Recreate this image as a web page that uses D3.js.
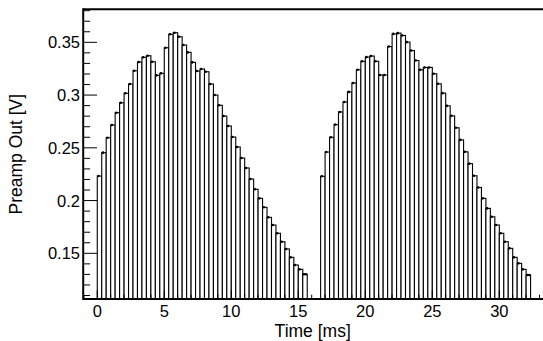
<!DOCTYPE html>
<html>
<head>
<meta charset="utf-8">
<script src="https://cdn.jsdelivr.net/npm/d3@7"></script>
<style>
  html, body { margin: 0; padding: 0; background: #fff; }
  svg { display: block; }
  text { font-family: "Liberation Sans", Arial, Helvetica, sans-serif; fill: #000; }
</style>
</head>
<body>
<svg id="chart" width="543" height="341"></svg>
<script>
// ---- data ----
const sampleStep = 1 / 3;            // ms per bin
const segment1Start = 0;             // ms
const segment2Start = 50 / 3;        // ms
const segment1Values = [
  0.2233, 0.2454, 0.2596, 0.2716, 0.2833, 0.2927, 0.3017, 0.3105, 0.3231, 0.3313,
  0.3358, 0.3373, 0.3316, 0.3187, 0.3206, 0.3449, 0.3576, 0.3591, 0.3553, 0.3474,
  0.3405, 0.3310, 0.3228, 0.3247, 0.3221, 0.3105, 0.3000, 0.2903, 0.2801, 0.2707,
  0.2602, 0.2508, 0.2403, 0.2309, 0.2204, 0.2107, 0.2021, 0.1936, 0.1841, 0.1768,
  0.1690, 0.1610, 0.1541, 0.1462, 0.1389, 0.1348, 0.1301
];
const segment2Values = [
  0.2230, 0.2460, 0.2600, 0.2720, 0.2840, 0.2935, 0.3030, 0.3115, 0.3240, 0.3320,
  0.3360, 0.3370, 0.3320, 0.3190, 0.3190, 0.3460, 0.3580, 0.3587, 0.3565, 0.3502,
  0.3422, 0.3328, 0.3240, 0.3262, 0.3262, 0.3202, 0.3107, 0.3018, 0.2898, 0.2803,
  0.2690, 0.2575, 0.2462, 0.2350, 0.2235, 0.2124, 0.2021, 0.1926, 0.1846, 0.1768,
  0.1690, 0.1610, 0.1547, 0.1462, 0.1405, 0.1348, 0.1294
];
const xTicks = [0, 5, 10, 15, 20, 25, 30];
const xTickLabels = ["0", "5", "10", "15", "20", "25", "30"];
const yTicks = [0.15, 0.2, 0.25, 0.3, 0.35];
const yTickLabels = ["0.15", "0.2", "0.25", "0.3", "0.35"];
const xTitle = "Time [ms]";
const yTitle = "Preamp Out [V]";

// ---- layout ----
const frame = { left: 83.2, right: 543.5, top: 9.3, bottom: 299 };
const xDomain = [-1.05, 33.2];
const xRangeRight = 542.2;
const yDomain = [0.1067, 0.3813];

const svg = d3.select("#chart");
const x = d3.scaleLinear().domain(xDomain).range([frame.left, xRangeRight]);
const y = d3.scaleLinear().domain(yDomain).range([frame.bottom, frame.top]);

// bins
function toBins(values, start) {
  return values.map((v, i) => ({ t0: start + i * sampleStep, t1: start + (i + 1) * sampleStep, v }));
}
const segments = [toBins(segment1Values, segment1Start), toBins(segment2Values, segment2Start)];

svg.append("clipPath").attr("id", "clip")
  .append("rect").attr("x", frame.left).attr("y", frame.top)
  .attr("width", frame.right - frame.left).attr("height", frame.bottom - frame.top);

const plot = svg.append("g").attr("clip-path", "url(#clip)");

segments.forEach(bins => {
  plot.append("g").selectAll("rect").data(bins).join("rect")
    .attr("x", d => x(d.t0))
    .attr("y", d => y(d.v))
    .attr("width", d => x(d.t1) - x(d.t0))
    .attr("height", d => frame.bottom + 2 - y(d.v))
    .attr("fill", "#fff")
    .attr("stroke", "#000")
    .attr("stroke-width", 1.1);
  // markers
  const pts = bins.map(d => ({ t: d.t0, v: d.v }));
  const last = bins[bins.length - 1];
  pts.push({ t: last.t1, v: last.v });
  plot.append("g").selectAll("circle").data(pts).join("circle")
    .attr("cx", (d, i) => i < bins.length ? x(d.t) + 1.2 : x(d.t) - 1.2)
    .attr("cy", d => y(d.v))
    .attr("r", 1.3)
    .attr("fill", "#000");
});

// ---- axes ----
const xAxis = svg.append("g");
const xMinor = d3.range(-1, 34, 1);
xAxis.selectAll("line").data(xMinor).join("line")
  .attr("x1", d => x(d)).attr("x2", d => x(d))
  .attr("y1", frame.bottom).attr("y2", d => frame.bottom - (xTicks.includes(d) ? 8.7 : 4.3))
  .attr("stroke", "#000").attr("stroke-width", 1);
xAxis.selectAll("text").data(xTicks).join("text")
  .attr("x", d => x(d)).attr("y", 317)
  .attr("text-anchor", "middle").attr("font-size", 16.5)
  .text((d, i) => xTickLabels[i]);

const yAxis = svg.append("g");
const yMinor = d3.range(11, 39, 1).map(k => k / 100);
yAxis.selectAll("line").data(yMinor).join("line")
  .attr("x1", frame.left).attr("x2", d => frame.left + (yTicks.some(t => Math.abs(t - d) < 1e-9) ? 13.8 : 6.9))
  .attr("y1", d => y(d)).attr("y2", d => y(d))
  .attr("stroke", "#000").attr("stroke-width", 1);
yAxis.selectAll("text").data(yTicks).join("text")
  .attr("x", 80).attr("y", d => y(d) + 6)
  .attr("text-anchor", "end").attr("font-size", 16.5)
  .text((d, i) => yTickLabels[i]);

// frame
svg.append("line").attr("x1", frame.left).attr("x2", frame.right).attr("y1", frame.top).attr("y2", frame.top)
  .attr("stroke", "#000").attr("stroke-width", 2);
svg.append("line").attr("x1", frame.left).attr("x2", frame.right).attr("y1", frame.bottom).attr("y2", frame.bottom)
  .attr("stroke", "#000").attr("stroke-width", 2);
svg.append("line").attr("x1", frame.left).attr("x2", frame.left).attr("y1", frame.top - 1).attr("y2", frame.bottom + 1)
  .attr("stroke", "#000").attr("stroke-width", 2);

// titles
svg.append("text").attr("x", (frame.left + xRangeRight) / 2).attr("y", 337)
  .attr("text-anchor", "middle").attr("font-size", 17.5).text(xTitle);
svg.append("text").attr("transform", `translate(22,${(frame.top + frame.bottom) / 2}) rotate(-90)`)
  .attr("text-anchor", "middle").attr("font-size", 17.5).text(yTitle);
</script>
</body>
</html>
